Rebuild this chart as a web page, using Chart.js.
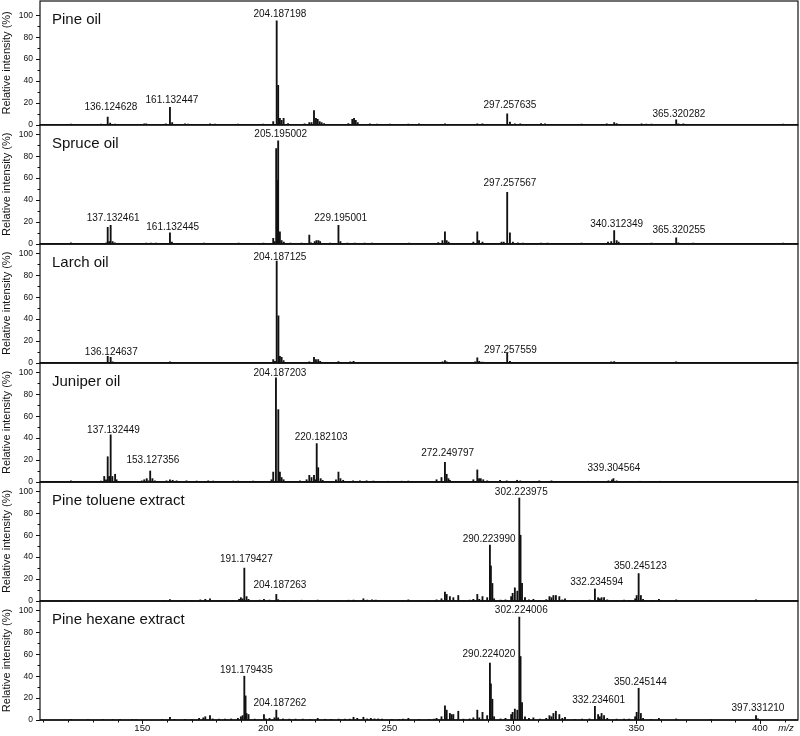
<!DOCTYPE html>
<html>
<head>
<meta charset="utf-8">
<script src="https://cdn.jsdelivr.net/npm/chart.js@4.4.1/dist/chart.umd.min.js"></script>
<style>
  html, body { margin: 0; padding: 0; background: #fff; }
  #wrap { width: 800px; height: 736px; position: relative; }
</style>
</head>
<body>
<div id="wrap"><canvas id="ms"></canvas></div>
<script>
/* 6段のマススペクトル (m/z vs 相対強度)。y軸は stack で縦に積む */

const FONT = "'Liberation Sans', Arial, Helvetica, sans-serif";
const INK = "#111";
const X_MIN = 108.6;
const X_MAX = 415.4;

const PANELS = ["Pine oil", "Spruce oil", "Larch oil", "Juniper oil", "Pine toluene extract", "Pine hexane extract"];

// [m/z, 相対強度 %]
const PINE_OIL = [
  [121.1, 0.7], [133.3, 0.6], [136.0, 7], [137.0, 1.5], [139.0, 0.7], [150.8, 1], [151.6, 0.8], [159.5, 0.8],
  [161.2, 16], [162.1, 2], [167.3, 0.8], [168.5, 0.7], [177.4, 0.8], [179.4, 0.7], [188.7, 0.7], [198.9, 0.6],
  [203.0, 3], [204.4, 95], [205.0, 36], [205.7, 6], [206.4, 4], [207.2, 6], [209.0, 1.2], [215.7, 1],
  [217.6, 2], [218.5, 2], [219.5, 13], [220.3, 6], [221.0, 5], [221.8, 3], [222.6, 2], [223.6, 1.2],
  [233.4, 1.2], [235.0, 5], [235.7, 6], [236.4, 4], [237.2, 2], [242.1, 0.8], [245.0, 0.7], [250.2, 0.7],
  [257.7, 0.6], [262.0, 0.8], [272.5, 0.8], [285.6, 1], [287.7, 0.8], [297.7, 10], [298.8, 2.5], [300.8, 1],
  [303.0, 0.8], [311.4, 1.2], [313.0, 0.9], [327.8, 0.7], [338.0, 1], [341.0, 2], [342.0, 1.2], [352.1, 1],
  [354.0, 0.7], [356.1, 0.7], [366.1, 4.5], [367.0, 1], [369.0, 0.8], [409.4, 0.6],
];
const SPRUCE_OIL = [
  [121.1, 1], [135.5, 1], [136.0, 15], [136.6, 2], [137.2, 17], [138.0, 2], [138.9, 1], [145.0, 0.5],
  [151.6, 0.6], [153.5, 0.6], [155.5, 0.6], [161.2, 10], [162.0, 1.5], [170.0, 0.5], [175.0, 0.6], [180.0, 0.5],
  [186.0, 0.5], [189.0, 0.6], [195.0, 0.5], [199.0, 0.6], [203.0, 5], [203.6, 2], [204.2, 87], [204.6, 58],
  [205.0, 94], [205.7, 11], [206.4, 3], [207.3, 1.5], [210.0, 0.7], [214.5, 0.8], [217.6, 8], [218.3, 1],
  [219.8, 2], [220.5, 3], [221.3, 3], [222.0, 2], [226.0, 0.7], [229.4, 17], [230.2, 2], [233.0, 0.6],
  [236.0, 0.8], [240.0, 0.8], [243.0, 0.6], [258.0, 0.6], [269.8, 1.2], [271.5, 3], [272.5, 11], [273.2, 3],
  [274.0, 1.5], [284.0, 1.5], [285.6, 11], [286.3, 3], [287.7, 1.5], [295.4, 1.5], [296.3, 1.5], [297.7, 47],
  [298.8, 10], [300.0, 1.5], [302.0, 1], [304.0, 0.8], [311.4, 0.8], [314.0, 0.6], [327.8, 0.6], [338.5, 1.5],
  [339.8, 2], [341.0, 12], [342.0, 3], [342.8, 1.5], [356.1, 0.6], [366.1, 5.5], [367.0, 1], [373.0, 0.7],
  [409.4, 0.6],
];
const LARCH_OIL = [
  [121.1, 0.6], [136.0, 6], [137.2, 5], [138.0, 1], [151.6, 0.5], [161.2, 1], [188.7, 0.4], [203.0, 3],
  [203.7, 1.5], [204.4, 93], [205.1, 43], [205.7, 6], [206.4, 5], [207.2, 2], [217.6, 1], [219.5, 5],
  [220.3, 3], [221.2, 3], [222.0, 1.5], [229.4, 1.2], [234.2, 1], [235.5, 1.5], [241.5, 0.6], [258.0, 0.4],
  [271.5, 1], [272.5, 2], [273.2, 1], [284.7, 1], [285.6, 4.5], [286.4, 1.5], [287.7, 0.8], [297.7, 9],
  [298.8, 1.5], [300.5, 0.5], [339.8, 1], [341.0, 1.2], [366.1, 1], [409.4, 0.4],
];
const JUNIPER_OIL = [
  [121.1, 1], [133.3, 0.8], [134.6, 5], [135.3, 2], [136.0, 23], [136.6, 5], [137.2, 43], [137.9, 5],
  [139.0, 7], [139.6, 2], [149.8, 1], [150.8, 2], [151.8, 3], [152.5, 1], [153.2, 10], [154.1, 3],
  [155.1, 1], [159.8, 1], [161.2, 2], [162.3, 1.5], [163.9, 1], [167.9, 1], [172.0, 0.8], [176.7, 1],
  [178.7, 0.8], [186.8, 0.8], [188.8, 0.8], [194.9, 0.8], [202.3, 2], [203.0, 9], [204.1, 95], [205.05, 66],
  [205.7, 9], [206.4, 4], [207.2, 2], [213.8, 1], [216.5, 2], [217.6, 6], [218.5, 4], [219.5, 6],
  [220.1, 2], [220.6, 35], [221.2, 13], [222.2, 3], [223.0, 1.5], [228.4, 2], [229.4, 9], [230.2, 3],
  [231.3, 1.5], [235.3, 1], [238.1, 1], [240.8, 1], [243.5, 0.8], [249.5, 0.6], [255.0, 0.7], [257.7, 0.8],
  [269.1, 2], [271.1, 4], [272.5, 18], [273.2, 7], [273.9, 3], [274.5, 1.5], [284.0, 2], [285.6, 11],
  [286.3, 3], [287.0, 3], [288.0, 2], [289.6, 1], [294.8, 1.5], [297.5, 1], [301.7, 1.5], [303.0, 1],
  [310.7, 1], [315.6, 1], [330.5, 0.6], [338.7, 1], [340.1, 2], [340.7, 3], [342.0, 1], [351.5, 0.6],
  [359.6, 0.6],
];
const PINE_TOLUENE = [
  [121.1, 0.5], [125.0, 0.4], [147.0, 0.4], [150.8, 0.5], [159.0, 0.4], [161.2, 1.2], [167.5, 0.6], [170.0, 0.5],
  [173.5, 1], [175.5, 1.5], [177.4, 2], [183.0, 0.5], [186.5, 0.6], [189.2, 1.5], [189.9, 3], [190.6, 2],
  [191.3, 30], [192.2, 4], [193.0, 1.5], [197.5, 0.8], [199.25, 1.5], [201.5, 0.8], [204.25, 6], [205.0, 1.2],
  [207.5, 0.5], [212.0, 0.5], [214.5, 0.7], [221.0, 0.8], [229.0, 0.5], [233.5, 0.7], [235.5, 0.8], [239.5, 2],
  [241.0, 0.8], [243.0, 1], [244.5, 0.8], [246.0, 0.6], [255.5, 0.6], [257.7, 1], [262.0, 0.4], [266.0, 0.5],
  [269.1, 1], [271.1, 2], [272.5, 8], [273.2, 6], [274.5, 4], [275.9, 3], [277.9, 5], [280.0, 0.6],
  [282.5, 0.8], [284.0, 1.5], [285.6, 6], [286.4, 1.5], [287.7, 4], [289.6, 3], [290.7, 51], [291.1, 32],
  [291.7, 16], [292.4, 2], [295.0, 0.8], [297.0, 1], [299.3, 4], [299.9, 7], [300.8, 12], [301.8, 9],
  [302.6, 94], [303.1, 60], [303.7, 16], [304.9, 3], [306.5, 1], [308.3, 1.5], [311.0, 0.6], [313.5, 1.2],
  [314.8, 4], [315.6, 3], [316.4, 5], [317.4, 5], [318.8, 4], [320.0, 1], [321.1, 2], [325.0, 0.5],
  [328.0, 0.5], [331.0, 0.8], [333.2, 11], [334.5, 3], [335.2, 2], [335.9, 3], [336.9, 3], [338.2, 1],
  [342.0, 0.6], [345.0, 0.8], [347.0, 0.6], [349.5, 2], [350.1, 5], [350.9, 25], [351.8, 5], [352.7, 1.5],
  [356.0, 0.5], [359.1, 1.5], [366.1, 1], [380.0, 0.4], [398.4, 1],
];
const PINE_HEXANE = [
  [121.1, 0.6], [128.0, 0.4], [134.0, 0.5], [138.0, 0.5], [141.0, 0.5], [146.0, 0.5], [147.5, 0.4], [158.0, 0.4],
  [161.2, 2.5], [163.0, 0.6], [167.3, 0.6], [170.0, 0.6], [173.0, 1.5], [174.7, 2], [175.5, 3], [177.4, 4],
  [178.5, 1], [181.0, 0.8], [183.5, 0.8], [186.0, 1], [188.7, 1.5], [189.9, 3], [190.6, 4], [191.3, 40],
  [191.8, 22], [192.2, 6], [193.0, 5], [195.5, 0.8], [199.25, 5], [200.0, 1], [201.5, 1.5], [203.5, 2],
  [204.25, 9], [205.0, 2], [207.0, 1], [209.5, 0.8], [212.0, 0.8], [215.0, 0.8], [218.0, 0.6], [221.0, 1.5],
  [224.0, 0.7], [226.5, 0.6], [229.5, 0.8], [232.0, 0.8], [234.0, 0.8], [235.5, 2.5], [237.0, 1.5], [239.5, 2.5],
  [241.0, 1], [242.5, 1.5], [244.0, 1], [245.5, 1], [247.0, 0.8], [251.0, 0.6], [254.0, 0.6], [255.5, 0.8],
  [257.7, 1.5], [262.0, 0.5], [266.0, 0.6], [268.0, 0.8], [269.1, 1.5], [271.1, 3], [272.5, 13], [273.2, 9],
  [274.5, 6], [275.2, 5], [275.9, 5], [277.9, 8], [280.0, 0.8], [282.5, 1], [284.0, 2], [285.6, 9],
  [286.4, 2], [287.7, 7], [289.6, 4], [290.7, 52], [291.1, 33], [291.7, 19], [292.4, 3], [295.0, 1],
  [297.0, 1.5], [299.3, 5], [299.9, 7], [300.8, 10], [301.8, 9], [302.6, 94], [303.1, 58], [303.7, 16],
  [304.9, 3], [306.5, 1.5], [308.3, 2], [311.0, 0.8], [313.5, 1.5], [314.8, 4], [315.6, 3], [316.4, 6],
  [317.4, 8], [318.8, 5], [320.0, 1.5], [321.1, 2.5], [325.0, 0.6], [328.0, 0.8], [331.0, 1], [333.2, 12.5],
  [334.5, 5], [335.2, 3], [335.9, 6], [336.9, 4], [338.2, 1.5], [342.0, 0.8], [345.0, 0.8], [347.0, 0.8],
  [349.5, 3], [350.1, 7], [350.9, 29], [351.8, 6], [352.7, 1.5], [356.0, 0.6], [359.1, 1.5], [366.1, 1],
  [380.0, 0.5], [398.4, 4], [399.2, 1],
];

// ピーク注記: [表示テキスト, 中心 m/z, 下端の強度 %]
const PINE_OIL_LABELS = [["136.124628", 137.3, 10], ["161.132447", 162.0, 16], ["204.187198", 205.7, 95], ["297.257635", 298.8, 11.6], ["365.320282", 367.2, 3.6]];
const SPRUCE_OIL_LABELS = [["137.132461", 138.2, 17.4], ["161.132445", 162.3, 9.2], ["205.195002", 206.05, 93.6], ["229.195001", 230.3, 17.4], ["297.257567", 298.8, 48.9], ["340.312349", 342.0, 11.3], ["365.320255", 367.2, 6.1]];
const LARCH_OIL_LABELS = [["136.124637", 137.45, 3.1], ["204.187125", 205.7, 90.5], ["297.257559", 299.0, 5.2]];
const JUNIPER_OIL_LABELS = [["137.132449", 138.35, 40.8], ["153.127356", 154.3, 13.8], ["204.187203", 205.7, 93], ["220.182103", 222.4, 34.7], ["272.249797", 273.6, 20], ["339.304564", 340.9, 6.2]];
const PINE_TOLUENE_LABELS = [["191.179427", 192.1, 32], ["204.187263", 205.7, 8], ["290.223990", 290.4, 50.5], ["302.223975", 303.4, 93], ["332.234594", 333.9, 11], ["350.245123", 351.6, 25.2]];
const PINE_HEXANE_LABELS = [["191.179435", 192.1, 39], ["204.187262", 205.7, 8.7], ["290.224020", 290.3, 53.6], ["302.224006", 303.4, 93.6], ["332.234601", 334.7, 11.8], ["350.245144", 351.6, 28.5], ["397.331210", 399.2, 4.2]];

const SPECTRA = [PINE_OIL, SPRUCE_OIL, LARCH_OIL, JUNIPER_OIL, PINE_TOLUENE, PINE_HEXANE];
const PEAK_LABELS = [PINE_OIL_LABELS, SPRUCE_OIL_LABELS, LARCH_OIL_LABELS, JUNIPER_OIL_LABELS, PINE_TOLUENE_LABELS, PINE_HEXANE_LABELS];

const scales = {
  x: {
    type: "linear",
    position: "bottom",
    min: X_MIN,
    max: X_MAX,
    offset: false,
    grid: { display: false, drawTicks: false },
    border: { display: false },
    ticks: {
      stepSize: 10,
      autoSkip: false,
      includeBounds: false,
      maxRotation: 0,
      padding: 3,
      color: INK,
      font: { family: FONT, size: 9.5 },
      callback: (v) => (v % 50 === 0 ? String(v) : ""),
    },
    afterFit: (s) => {
      s.height = 16;
      s.paddingLeft = 0;
      s.paddingRight = 0;
    },
  },
};
// left の箱は定義順の逆に上から並ぶので、下のパネルから定義する
for (let i = PANELS.length - 1; i >= 0; i--) {
  scales["y" + i] = {
    type: "linear",
    position: "left",
    stack: "ms",
    stackWeight: i === 0 ? 1.04 : 1,
    offset: false,
    min: 0,
    max: i === 0 ? 113.1 : 108.7,
    grid: { display: false, drawTicks: false },
    border: { display: false },
    ticks: {
      stepSize: 10,
      autoSkip: false,
      includeBounds: false,
      padding: 7,
      color: INK,
      font: { family: FONT, size: 8.5 },
      callback: (v) => (v % 20 === 0 && v <= 100 ? String(v) : ""),
    },
    title: { display: true, text: "Relative intensity (%)", color: INK, font: { family: FONT, size: 11 }, padding: 0 },
    afterFit: (s) => {
      // ticks.padding が上下の余白にも足されるので打ち消す
      s.width = 40;
      s.paddingTop = 0;
      s.paddingBottom = 0;
    },
  };
}

// 枠・目盛り線・パネル名・ピーク注記
const msDecor = {
  id: "msDecor",
  afterDraw(chart) {
    const { ctx, chartArea: a, scales: sc } = chart;
    const xs = sc.x;
    ctx.save();
    ctx.strokeStyle = INK;
    ctx.fillStyle = INK;
    PANELS.forEach((name, i) => {
      const ys = sc["y" + i];
      ctx.lineWidth = 1.2;
      ctx.strokeRect(a.left, ys.top, a.right - a.left, ys.bottom - ys.top);
      ctx.lineWidth = 1.6;
      ctx.beginPath();
      ctx.moveTo(a.left, ys.bottom);
      ctx.lineTo(a.right, ys.bottom);
      ctx.stroke();

      ctx.lineWidth = 1;
      ctx.beginPath();
      ys.ticks.forEach((t) => {
        if (t.value > 100) return;
        const y = Math.round(ys.getPixelForValue(t.value)) + 0.5;
        const len = t.value % 20 === 0 ? 4 : 2.5;
        ctx.moveTo(a.left - len, y);
        ctx.lineTo(a.left, y);
      });
      ctx.stroke();

      ctx.font = `15px ${FONT}`;
      ctx.textAlign = "left";
      ctx.textBaseline = "alphabetic";
      ctx.fillText(name, a.left + 12, ys.top + 23);

      ctx.font = `10px ${FONT}`;
      ctx.textAlign = "center";
      PEAK_LABELS[i].forEach(([text, mz, level]) => {
        ctx.fillText(text, xs.getPixelForValue(mz), ys.getPixelForValue(level) - 4);
      });
    });

    ctx.lineWidth = 1;
    ctx.beginPath();
    xs.ticks.forEach((t) => {
      const x = Math.round(xs.getPixelForValue(t.value)) + 0.5;
      const len = t.value % 50 === 0 ? 4 : 2.5;
      ctx.moveTo(x, a.bottom);
      ctx.lineTo(x, a.bottom + len);
    });
    ctx.stroke();

    ctx.font = `italic 9.5px ${FONT}`;
    ctx.textAlign = "center";
    ctx.textBaseline = "middle";
    ctx.fillText("m/z", a.right - 12, a.bottom + 8);
    ctx.restore();
  },
};

new Chart(document.getElementById("ms"), {
  type: "bar",
  data: {
    datasets: PANELS.map((name, i) => ({
      label: name,
      data: SPECTRA[i].map(([x, y]) => ({ x, y })),
      yAxisID: "y" + i,
      backgroundColor: INK,
      barThickness: 1.2,
      grouped: false,
    })),
  },
  options: {
    responsive: true,
    maintainAspectRatio: false,
    animation: false,
    devicePixelRatio: 1,
    events: [],
    layout: { padding: { top: 1, right: 2, left: 0, bottom: 0 } },
    plugins: { legend: { display: false }, tooltip: { enabled: false } },
    scales,
  },
  plugins: [msDecor],
});
</script>
</body>
</html>
